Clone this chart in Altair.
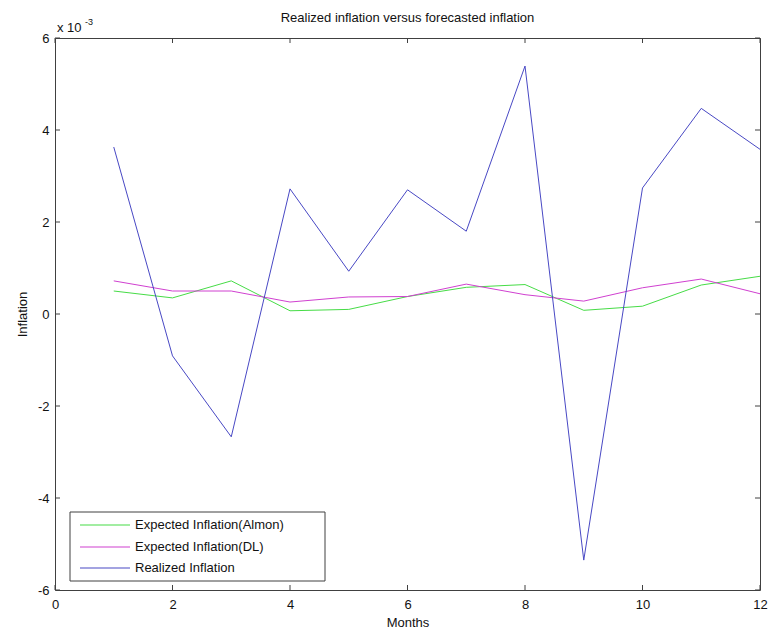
import altair as alt
import pandas as pd

# ---- data (values in units of 1e-3) ----
months = list(range(1, 13))
almon = [0.50, 0.35, 0.72, 0.07, 0.10, 0.38, 0.58, 0.64, 0.08, 0.17, 0.63, 0.82]
dl = [0.72, 0.50, 0.50, 0.26, 0.37, 0.38, 0.65, 0.42, 0.28, 0.57, 0.76, 0.44]
realized = [3.63, -0.91, -2.67, 2.72, 0.93, 2.70, 1.80, 5.39, -5.35, 2.74, 4.47, 3.58]
series_names = ["Expected Inflation(Almon)", "Expected Inflation(DL)", "Realized Inflation"]
colors = ["#46dc46", "#d040d0", "#4848c4"]
y_ticks = [-6, -4, -2, 0, 2, 4, 6]
x_ticks = [0, 2, 4, 6, 8, 10, 12]
factor = 1e-3
title_text = "Realized inflation versus forecasted inflation"

FONT = "Liberation Sans"
W, H = 705, 552
FRAME = "#404040"

rows = []
for name, vals in zip(series_names, [almon, dl, realized]):
    for m, v in zip(months, vals):
        rows.append({"month": m, "value": v * factor, "series": name})
df = pd.DataFrame(rows)

xscale = alt.Scale(domain=[0, 12], nice=False, zero=False)
yscale = alt.Scale(domain=[-6 * factor, 6 * factor], nice=False, zero=False)

xaxis = alt.Axis(values=x_ticks, title="Months", ticks=False, domain=False,
                 grid=False, labelFontSize=13, labelPadding=8, labelFlush=False,
                 titleFontSize=13, titleFontWeight="normal", titlePadding=5,
                 labelFont=FONT, titleFont=FONT, labelColor="#111", titleColor="#111")
yaxis = alt.Axis(values=[t * factor for t in y_ticks], title="Inflation",
                 labelExpr="'' + round(datum.value*1000)", labelFlush=False,
                 ticks=False, domain=False, grid=False, labelFontSize=13,
                 labelPadding=6, titleFontSize=13, titleFontWeight="normal",
                 titlePadding=8, labelFont=FONT, titleFont=FONT,
                 labelColor="#111", titleColor="#111")
X = alt.X("month:Q", scale=xscale, axis=xaxis)
Y = alt.Y("value:Q", scale=yscale, axis=yaxis)

lines = alt.Chart(df).mark_line(strokeWidth=1).encode(
    x=X, y=Y,
    color=alt.Color("series:N", scale=alt.Scale(domain=series_names, range=colors), legend=None),
    detail="series:N",
)

# inward tick marks (MATLAB style)
ydf = pd.DataFrame({"value": [t * factor for t in y_ticks]})
xdf = pd.DataFrame({"month": x_ticks})
tick_l = alt.Chart(ydf).mark_rule(color=FRAME, strokeWidth=1).encode(
    y=Y, x=alt.value(0), x2=alt.value(5))
tick_r = alt.Chart(ydf).mark_rule(color=FRAME, strokeWidth=1).encode(
    y=Y, x=alt.value(W - 5), x2=alt.value(W))
tick_b = alt.Chart(xdf).mark_rule(color=FRAME, strokeWidth=1).encode(
    x=X, y=alt.value(H - 5), y2=alt.value(H))
tick_t = alt.Chart(xdf).mark_rule(color=FRAME, strokeWidth=1).encode(
    x=X, y=alt.value(0), y2=alt.value(5))

one = pd.DataFrame({"a": [0]})
# title
title_mark = alt.Chart(one).mark_text(text=title_text, align="center", baseline="middle",
                                      fontSize=13, font=FONT, color="#111").encode(
    x=alt.value(W / 2), y=alt.value(-20))
# exponent label
exp_main = alt.Chart(one).mark_text(text="x 10", align="left", baseline="alphabetic",
                                    fontSize=13, font=FONT, color="#111").encode(
    x=alt.value(2), y=alt.value(-6))
exp_sup = alt.Chart(one).mark_text(text="-3", align="left", baseline="alphabetic",
                                   fontSize=9, font=FONT, color="#111").encode(
    x=alt.value(30), y=alt.value(-13))

# legend box
leg_x0, leg_x1, leg_y0, leg_y1 = 15, 270, 474, 543
leg_box = alt.Chart(one).mark_rect(fill="white", stroke=FRAME, strokeWidth=1).encode(
    x=alt.value(leg_x0), x2=alt.value(leg_x1), y=alt.value(leg_y0), y2=alt.value(leg_y1))
leg_layers = [leg_box]
row_y = [487, 509, 530]
for name, col, yy in zip(series_names, colors, row_y):
    ldf = pd.DataFrame({"series": [name]})
    leg_layers.append(alt.Chart(ldf).mark_rule(color=col, strokeWidth=1.2).encode(
        x=alt.value(25), x2=alt.value(75), y=alt.value(yy)))
    leg_layers.append(alt.Chart(ldf).mark_text(align="left", baseline="middle", fontSize=13,
                                               font=FONT, color="#111").encode(
        x=alt.value(80), y=alt.value(yy), text="series:N"))

chart = alt.layer(lines, tick_l, tick_r, tick_b, tick_t, title_mark, exp_main, exp_sup,
                  *leg_layers).properties(
    width=W, height=H,
    autosize=alt.AutoSizeParams(type="none"),
    padding={"left": 55, "top": 38, "right": 9, "bottom": 47},
    background="white",
).configure_view(stroke=FRAME, strokeWidth=1)

chart.save("out.html", embed_options={"renderer": "svg", "actions": False})
